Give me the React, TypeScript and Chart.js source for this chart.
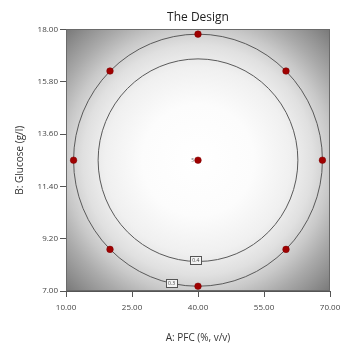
import React, { useEffect, useRef } from "react";
import { Chart, registerables } from "chart.js";
Chart.register(...registerables);

const pfc = [20, 60, 20, 60, 11.72, 68.28, 40, 40, 40];
const glucose = [8.75, 8.75, 16.25, 16.25, 12.5, 12.5, 7.2, 17.8, 12.5];
const xTicks = [10, 25, 40, 55, 70];
const yTicks = [7, 9.2, 11.4, 13.6, 15.8, 18];
const contourLevels = ["0.3", "0.4"];
const contourRadiusPfc = [28.28, 22.7];
const contourRadiusGlucose = [5.3, 4.26];
const contourLabelPfc = [34, 39.5];
const contourLabelGlucose = [7.33, 8.3];
const centerPfc = 40;
const centerGlucose = 12.5;
const centerReplicates = "5";

const FONT = "'Open Sans', 'DejaVu Sans', sans-serif";

const designPlugin = {
  id: "design",
  beforeDraw(chart: any) {
    const { ctx, chartArea: a } = chart;
    const cx = (a.left + a.right) / 2;
    const cy = (a.top + a.bottom) / 2;
    const r = Math.hypot(a.right - a.left, a.bottom - a.top) / 2;
    const g = ctx.createRadialGradient(cx, cy, 0, cx, cy, r);
    g.addColorStop(0, "#ffffff");
    g.addColorStop(0.3, "#fcfcfc");
    g.addColorStop(0.5, "#f0f0f0");
    g.addColorStop(0.62, "#e0e0e0");
    g.addColorStop(0.72, "#c8c8c8");
    g.addColorStop(0.82, "#aaaaaa");
    g.addColorStop(0.92, "#8f8f8f");
    g.addColorStop(1, "#787878");
    ctx.save();
    ctx.fillStyle = g;
    ctx.fillRect(a.left, a.top, a.right - a.left, a.bottom - a.top);
    ctx.restore();
  },
  beforeDatasetsDraw(chart: any) {
    const { ctx, chartArea: a, scales } = chart;
    const xs = scales.x;
    const ys = scales.y;
    ctx.save();
    ctx.beginPath();
    ctx.rect(a.left, a.top, a.right - a.left, a.bottom - a.top);
    ctx.clip();
    const cx = xs.getPixelForValue(centerPfc);
    const cy = ys.getPixelForValue(centerGlucose);
    ctx.strokeStyle = "#5a5a5a";
    ctx.lineWidth = 1;
    contourLevels.forEach((_, i) => {
      const rx = Math.abs(xs.getPixelForValue(centerPfc + contourRadiusPfc[i]) - cx);
      const ry = Math.abs(ys.getPixelForValue(centerGlucose + contourRadiusGlucose[i]) - cy);
      ctx.beginPath();
      ctx.ellipse(cx, cy, rx, ry, 0, 0, Math.PI * 2);
      ctx.stroke();
    });
    contourLevels.forEach((lab, i) => {
      const px = xs.getPixelForValue(contourLabelPfc[i]);
      const py = ys.getPixelForValue(contourLabelGlucose[i]);
      const w = 11, h = 8;
      ctx.fillStyle = "#f4f4f4";
      ctx.fillRect(px - w / 2, py - h / 2, w, h);
      ctx.strokeStyle = "#555";
      ctx.strokeRect(Math.round(px - w / 2) + 0.5, Math.round(py - h / 2) + 0.5, w, h);
      ctx.fillStyle = "#444";
      ctx.font = `5px ${FONT}`;
      ctx.textAlign = "center";
      ctx.textBaseline = "middle";
      ctx.fillText(lab, px, py + 0.5);
    });
    ctx.restore();
    ctx.save();
    ctx.strokeStyle = "#6a6a6a";
    ctx.lineWidth = 1;
    ctx.strokeRect(Math.round(a.left) + 0.5, Math.round(a.top) + 0.5, Math.round(a.right - a.left) - 1, Math.round(a.bottom - a.top) - 1);
    ctx.restore();
  },
  afterDatasetsDraw(chart: any) {
    const { ctx, scales } = chart;
    const px = scales.x.getPixelForValue(centerPfc);
    const py = scales.y.getPixelForValue(centerGlucose);
    ctx.save();
    ctx.fillStyle = "#666";
    ctx.font = `5px ${FONT}`;
    ctx.textAlign = "right";
    ctx.textBaseline = "middle";
    ctx.fillText(centerReplicates, px - 4, py);
    ctx.restore();
  },
};

export default function App() {
  const ref = useRef<HTMLCanvasElement>(null);
  useEffect(() => {
    const chart = new Chart(ref.current as HTMLCanvasElement, {
      type: "scatter",
      data: {
        datasets: [
          {
            data: pfc.map((x, i) => ({ x, y: glucose[i] })),
            backgroundColor: "#a00000",
            borderColor: "#7a0000",
            borderWidth: 0.5,
            pointRadius: 3.3,
          },
        ],
      },
      plugins: [designPlugin],
      options: {
        animation: false,
        responsive: true,
        maintainAspectRatio: false,
        layout: { padding: { left: 0, right: 10, top: 0, bottom: 0 } },
        plugins: {
          legend: { display: false },
          tooltip: { enabled: false },
          title: {
            display: true,
            text: "The Design",
            fullSize: false,
            color: "#222",
            font: { family: FONT, size: 12, weight: "normal" },
            padding: { top: 10, bottom: 5 },
          },
        },
        scales: {
          x: {
            type: "linear",
            min: 10,
            max: 70,
            afterBuildTicks: (s: any) => {
              s.ticks = xTicks.map((v) => ({ value: v }));
            },
            afterFit: (s: any) => {
              s.height = 60;
              s.paddingLeft = 0;
              s.paddingRight = 0;
            },
            ticks: {
              callback: (v: any) => Number(v).toFixed(2),
              color: "#444",
              font: { family: FONT, size: 8 },
              padding: 6,
              maxRotation: 0,
            },
            grid: { drawOnChartArea: false, drawTicks: true, tickLength: 6, color: "#555" },
            border: { display: true, color: "#555" },
            title: {
              display: true,
              text: "A: PFC (%, v/v)",
              color: "#333",
              font: { family: FONT, size: 10 },
              padding: { top: 0, bottom: 7 },
            },
          },
          y: {
            type: "linear",
            min: 7,
            max: 18,
            afterBuildTicks: (s: any) => {
              s.ticks = yTicks.map((v) => ({ value: v }));
            },
            afterFit: (s: any) => {
              s.width = 66;
              s.paddingTop = 0;
              s.paddingBottom = 0;
            },
            ticks: {
              callback: (v: any) => Number(v).toFixed(2),
              color: "#444",
              font: { family: FONT, size: 8 },
              padding: 2,
            },
            grid: { drawOnChartArea: false, drawTicks: true, tickLength: 6, color: "#555" },
            border: { display: true, color: "#555" },
            title: {
              display: true,
              text: "B: Glucose (g/l)",
              color: "#333",
              font: { family: FONT, size: 10 },
              padding: { top: 14, bottom: 0 },
            },
          },
        },
      } as any,
    });
    return () => chart.destroy();
  }, []);
  return (
    <div style={{ position: "absolute", left: 0, top: 0, width: 340, height: 351, background: "#fff" }}>
      <canvas ref={ref} />
    </div>
  );
}
